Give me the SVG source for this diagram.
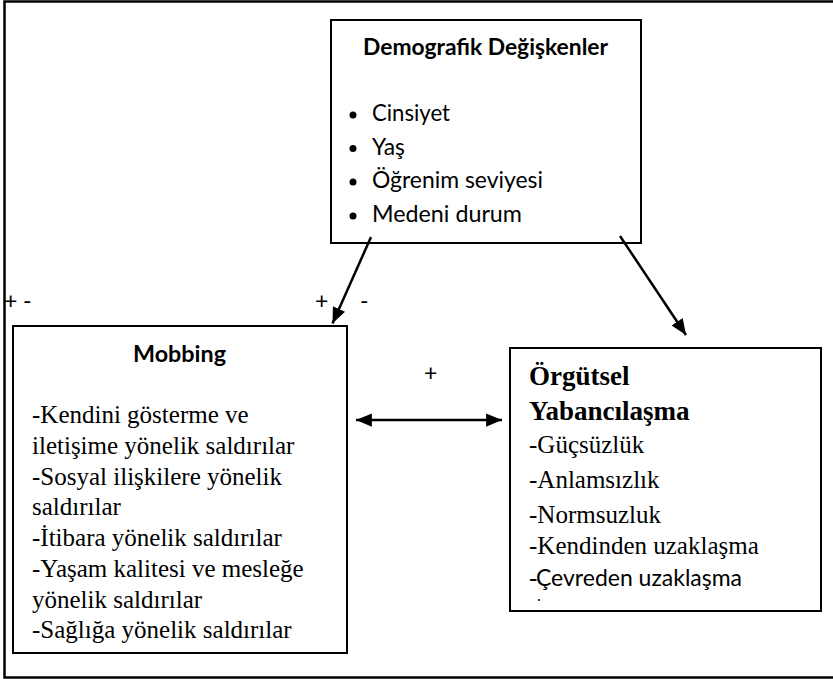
<svg xmlns="http://www.w3.org/2000/svg" width="833" height="679" viewBox="0 0 833 679">
<style>
.box{fill:#fff;stroke:#000;stroke-width:2}
.sn{font-family:Lato,"Open Sans","Liberation Sans",sans-serif;font-size:23px;fill:#000}
.snb{font-family:Lato,"Open Sans","Liberation Sans",sans-serif;font-size:23px;font-weight:bold;fill:#000}
.tr{font-family:"Liberation Serif",serif;font-size:25px;fill:#000}
.trb{font-family:"Liberation Serif",serif;font-size:27px;font-weight:bold;fill:#000}
.conn{stroke:#000;stroke-width:2.5;fill:none}
</style>
<defs>
<marker id="ah" viewBox="0 0 12 10" refX="12" refY="5" markerWidth="6.4" markerHeight="5.3" markerUnits="strokeWidth" orient="auto-start-reverse">
<path d="M0,0 L12,5 L0,10 z" fill="#000"/>
</marker>
</defs>
<rect width="833" height="679" fill="#fff"/>
<path d="M833,1.5 H4.5 V677.5 H833" fill="none" stroke="#000" stroke-width="2.5"/>

<g id="demografik">
<rect class="box" x="331" y="20" width="310" height="223"/>
<text class="snb" x="363" y="55" textLength="245" lengthAdjust="spacingAndGlyphs">Demografik Değişkenler</text>
<circle cx="353" cy="115" r="3.5"/>
<circle cx="353" cy="148.5" r="3.5"/>
<circle cx="353" cy="182" r="3.5"/>
<circle cx="353" cy="216" r="3.5"/>
<text class="sn" x="372" y="121" textLength="78" lengthAdjust="spacingAndGlyphs">Cinsiyet</text>
<text class="sn" x="372" y="155" textLength="33" lengthAdjust="spacingAndGlyphs">Yaş</text>
<text class="sn" x="372" y="188" textLength="171" lengthAdjust="spacingAndGlyphs">Öğrenim seviyesi</text>
<text class="sn" x="372" y="222" textLength="150" lengthAdjust="spacingAndGlyphs">Medeni durum</text>
</g>

<g id="mobbing">
<rect class="box" x="13" y="326" width="334" height="327"/>
<text class="snb" x="133" y="362" textLength="93" lengthAdjust="spacingAndGlyphs">Mobbing</text>
<text class="tr" x="32" y="423">-Kendini gösterme ve</text>
<text class="tr" x="32" y="454">iletişime yönelik saldırılar</text>
<text class="tr" x="32" y="485">-Sosyal ilişkilere yönelik</text>
<text class="tr" x="32" y="515">saldırılar</text>
<text class="tr" x="32" y="546">-İtibara yönelik saldırılar</text>
<text class="tr" x="32" y="577">-Yaşam kalitesi ve mesleğe</text>
<text class="tr" x="32" y="608">yönelik saldırılar</text>
<text class="tr" x="32" y="638">-Sağlığa yönelik saldırılar</text>
</g>

<g id="orgutsel">
<rect class="box" x="510" y="348" width="311" height="263"/>
<text class="trb" x="529" y="385">Örgütsel</text>
<text class="trb" x="529" y="420">Yabancılaşma</text>
<text class="tr" x="529" y="453">-Güçsüzlük</text>
<text class="tr" x="529" y="488">-Anlamsızlık</text>
<text class="tr" x="529" y="523">-Normsuzluk</text>
<text class="tr" x="529" y="554">-Kendinden uzaklaşma</text>
<text class="tr" x="529" y="586">-</text>
<text class="sn" x="536" y="586" textLength="206" lengthAdjust="spacingAndGlyphs">Çevreden uzaklaşma</text>
<circle cx="539" cy="600" r="1"/>
</g>

<g id="connectors">
<line class="conn" x1="371" y1="237" x2="332.5" y2="323.5" marker-end="url(#ah)"/>
<line class="conn" x1="620" y1="236" x2="686" y2="335" marker-end="url(#ah)"/>
<line class="conn" x1="356" y1="420" x2="502" y2="420" marker-start="url(#ah)" marker-end="url(#ah)"/>
</g>

<g id="labels">
<text class="sn" x="4" y="309">+</text>
<text class="sn" x="23" y="309">-</text>
<text class="sn" x="315" y="309">+</text>
<text class="sn" x="360" y="309">-</text>
<text class="sn" x="424" y="381">+</text>
</g>
</svg>
